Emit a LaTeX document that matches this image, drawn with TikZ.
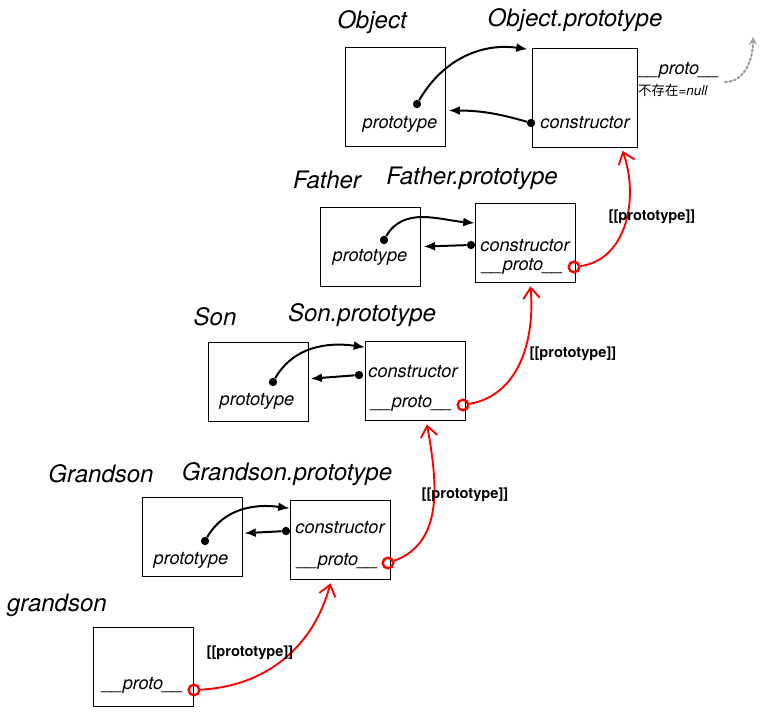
\documentclass[tikz,border=0pt]{standalone}
\usepackage{fontspec}
\setmainfont{TeX Gyre Heros}
\newfontfamily\cjk{Noto Sans CJK SC}
\usetikzlibrary{arrows.meta}

\begin{document}
\begin{tikzpicture}[x=0.03cm,y=-0.03cm,
    box/.style={draw,line width=0.8pt,minimum width=3cm,minimum height=2.37cm},
    title/.style={font=\fontsize{20.5}{24}\selectfont\itshape},
    field/.style={font=\fontsize{15.5}{18}\selectfont\itshape},
    link/.style={font=\fontsize{12.5}{15}\selectfont\bfseries},
    dot/.style={circle,fill,inner sep=0pt,minimum size=0.25cm},
    ring/.style={circle,draw=red,line width=2pt,inner sep=0pt,minimum size=0.32cm},
    ptr/.style={-{Latex[length=3.4mm,width=2.7mm]},line width=1.7pt},
    chain/.style={red,line width=1.6pt,-{Straight Barb[length=3.2mm,width=5mm]}}]
  \useasboundingbox (0,0) rectangle (766,717);

  \node [box,minimum height=2.97cm] (O) at (395.5,96.5) {};
  \node [box,minimum width=3.15cm,minimum height=2.97cm] (OP) at (584.5,97.5) {};
  \node [title] at (372,22) {Object};
  \node [title] at (575,20) {Object.prototype};
  \node [field] at (400,124) {prototype};
  \node [field] at (585,123) {constructor};
  \node [dot] (Od) at (417,104) {};
  \node [dot] (OPd) at (531,123) {};
  \node [field] (Oproto) at (679,70) {\_\_proto\_\_};
  \node [font=\fontsize{11.5}{14}\selectfont] at (673,90) {{\cjk 不存在}=\textit{null}};
  \coordinate (nullfrom) at (725,82);
  \coordinate (nullto) at (753,37);
  \draw [ptr] (Od) to[out=60,in=172] ([xshift=-0.12cm,yshift=-0.05cm]OP.north west);
  \draw [ptr] (OPd) to[bend right=8] ([xshift=0.08cm,yshift=-0.42cm]O.east);
  \draw [gray!75,dotted,line width=1.8pt,line cap=round,-{Stealth[length=2.4mm,width=2.4mm]}] (nullfrom) to[out=0,in=-90] (nullto);

  \node [box] (F) at (370.5,246.5) {};
  \node [box] (FP) at (525,243) {};
  \node [title] at (327,180) {Father};
  \node [title] at (472,178) {Father.prototype};
  \node [field] at (370,257) {prototype};
  \node [field] at (525,246) {constructor};
  \node [field] at (523,266) {\_\_proto\_\_};
  \node [dot] (Fd) at (384,240) {};
  \node [dot] (FPd) at (471,245) {};
  \node [ring] (FPr) at (574,267) {};
  \draw [ptr] (Fd) to[out=60,in=175] ([yshift=-0.6cm]FP.north west);
  \draw [ptr] (FPd) -- ([xshift=0.08cm]F.east);

  \node [box] (S) at (258.5,382) {};
  \node [box] (SP) at (415.5,380.5) {};
  \node [title] at (215,317) {Son};
  \node [title] at (362,315) {Son.prototype};
  \node [field] at (257,401) {prototype};
  \node [field] at (413,372) {constructor};
  \node [field] at (412,403) {\_\_proto\_\_};
  \node [dot] (Sd) at (273,382) {};
  \node [dot] (SPd) at (359,375) {};
  \node [ring] (SPr) at (463,405) {};
  \draw [ptr] (Sd) to[out=60,in=172] ([yshift=-0.2cm]SP.north west);
  \draw [ptr] (SPd) -- ([xshift=0.05cm,yshift=0.1cm]S.east);

  \node [box] (G) at (192,536.5) {};
  \node [box] (GP) at (340,540) {};
  \node [title] at (101,474) {Grandson};
  \node [title] at (287,474) {Grandson.prototype};
  \node [field] at (191,560) {prototype};
  \node [field] at (340,528) {constructor};
  \node [field] at (338,561) {\_\_proto\_\_};
  \node [dot] (Gd) at (205,541) {};
  \node [dot] (GPd) at (286,531) {};
  \node [ring] (GPr) at (388,563) {};
  \draw [ptr] (Gd) to[out=60,in=172] ([yshift=-0.25cm]GP.north west);
  \draw [ptr] (GPd) -- ([xshift=0.06cm,yshift=0.1cm]G.east);

  \node [box] (g) at (143,667) {};
  \node [title] at (57,605) {grandson};
  \node [field] at (143,685) {\_\_proto\_\_};
  \node [ring] (gr) at (194,690) {};

  \draw [chain] (gr) to[out=3,in=-105] ([xshift=-1.8cm,yshift=-0.1cm]GP.south east);
  \draw [chain] (GPr) to[out=20,in=-80] ([xshift=-1.17cm,yshift=-0.12cm]SP.south east);
  \draw [chain] (SPr) to[out=10,in=-85] ([xshift=-1.35cm,yshift=-0.1cm]FP.south east);
  \draw [chain] (FPr) to[out=8,in=-70] ([xshift=-0.45cm,yshift=-0.1cm]OP.south east);
  \node [link] at (250,653) {[[prototype]]};
  \node [link] at (465,495) {[[prototype]]};
  \node [link] at (573,354) {[[prototype]]};
  \node [link] at (652,217) {[[prototype]]};
\end{tikzpicture}
\end{document}
